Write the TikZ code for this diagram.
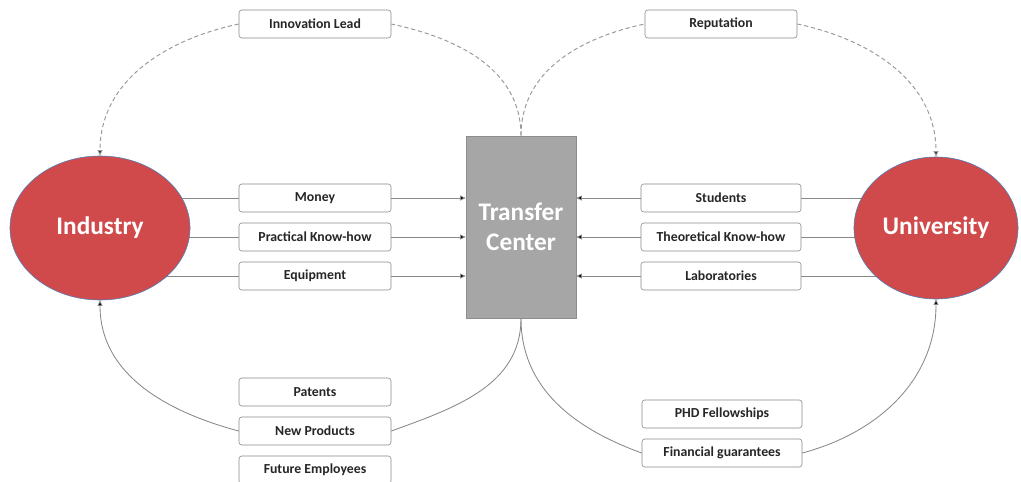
\documentclass[tikz,border=0pt]{standalone}
\usepackage{fontspec}
\setmainfont{Carlito}
\usetikzlibrary{positioning, shapes.geometric, arrows.meta, backgrounds}

\definecolor{partnerred}{HTML}{D04A4C}
\definecolor{partnerblue}{HTML}{4A7EBB}
\definecolor{hubgray}{HTML}{A6A6A6}
\definecolor{linegray}{HTML}{888888}
\definecolor{dashgray}{HTML}{9A9A9A}

\begin{document}
\begin{tikzpicture} [x=0.025cm, y=-0.025cm,
            node distance = 0.975cm,
            on grid,
            partner/.style = {ellipse, fill=partnerred, draw=partnerblue,
                inner sep=0pt, text=white, font=\fontsize{18}{20}\selectfont\bfseries},
            hub/.style = {rectangle, fill=hubgray, draw=hubgray!85!black,
                minimum width=2.75cm, minimum height=4.55cm, align=center,
                text=white, font=\fontsize{18}{21}\selectfont\bfseries},
            flowbox/.style = {rectangle, rounded corners=2pt, draw=linegray,
                fill=white, minimum width=3.8cm, minimum height=0.7cm,
                text=black!85, font=\fontsize{9.8}{11}\selectfont\bfseries},
            flow/.style = {draw=linegray, line width=0.6pt},
            feedback/.style = {draw=dashgray, line width=0.7pt,
                dash pattern=on 3pt off 2pt},
            tip/.style = {-{Triangle[length=4pt, width=3.5pt]}}]

            \useasboundingbox (0,0) rectangle (1021,481);

            % Partners and hub
            \node (industry) [partner, minimum width=4.5cm,
                minimum height=3.6cm] at (100,228) {Industry};
            \node (university) [partner, minimum width=4.1cm,
                minimum height=3.55cm] at (936,228) {University};
            \node (tc) [hub] at (521,227) {Transfer\\Center};

            % Industry side
            \node (money) [flowbox] at (315,198) {Money};
            \node (practical) [flowbox, below = of money] {Practical Know-how};
            \node (equip) [flowbox, below = of practical] {Equipment};

            % University side
            \node (students) [flowbox, minimum width=4cm] at (721,198) {Students};
            \node (theory) [flowbox, minimum width=4cm,
                below = of students] {Theoretical Know-how};
            \node (labs) [flowbox, minimum width=4cm,
                below = of theory] {Laboratories};

            % Top returns
            \node (ilead) [flowbox] at (315,24) {Innovation Lead};
            \node (reput) [flowbox] at (721,24) {Reputation};

            % Bottom returns
            \node (patents) [flowbox] at (315,392) {Patents};
            \node (newprod) [flowbox, below = of patents] {New Products};
            \node (future) [flowbox, below = of newprod] {Future Employees};
            \node (phd) [flowbox, minimum width=4cm] at (722,414) {PHD Fellowships};
            \node (finguar) [flowbox, minimum width=4cm,
                below = of phd] {Financial guarantees};

            % Arrows
            \begin{scope}[on background layer]
            \path [flow]
                (money.west -| industry) edge (money.west)
                (practical.west -| industry) edge (practical.west)
                (equip.west -| industry) edge (equip.west)
                (students.east) edge (students.east -| university)
                (theory.east) edge (theory.east -| university)
                (labs.east) edge (labs.east -| university);
            \end{scope}

            \path [flow]
                (money.east) edge[tip] (money.east -| tc.west)
                (practical.east) edge[tip] (practical.east -| tc.west)
                (equip.east) edge[tip] (equip.east -| tc.west)
                (students.west) edge[tip] (students.west -| tc.east)
                (theory.west) edge[tip] (theory.west -| tc.east)
                (labs.west) edge[tip] (labs.west -| tc.east);

            \path [feedback]
                (tc.north) edge[out=90, in=-12] (ilead.east)
                (tc.north) edge[out=90, in=192] (reput.west)
                (ilead.west) edge[out=192, in=90, tip] (industry.north)
                (reput.east) edge[out=-12, in=90, tip] (university.north);

            \path [flow]
                (tc.south) edge[out=-90, in=20] (newprod.east)
                (tc.south) edge[out=-90, in=160] (finguar.west)
                (newprod.west) edge[out=165, in=-90, tip] (industry.south)
                (finguar.east) edge[out=15, in=-90, tip] (university.south);
        \end{tikzpicture}
\end{document}
